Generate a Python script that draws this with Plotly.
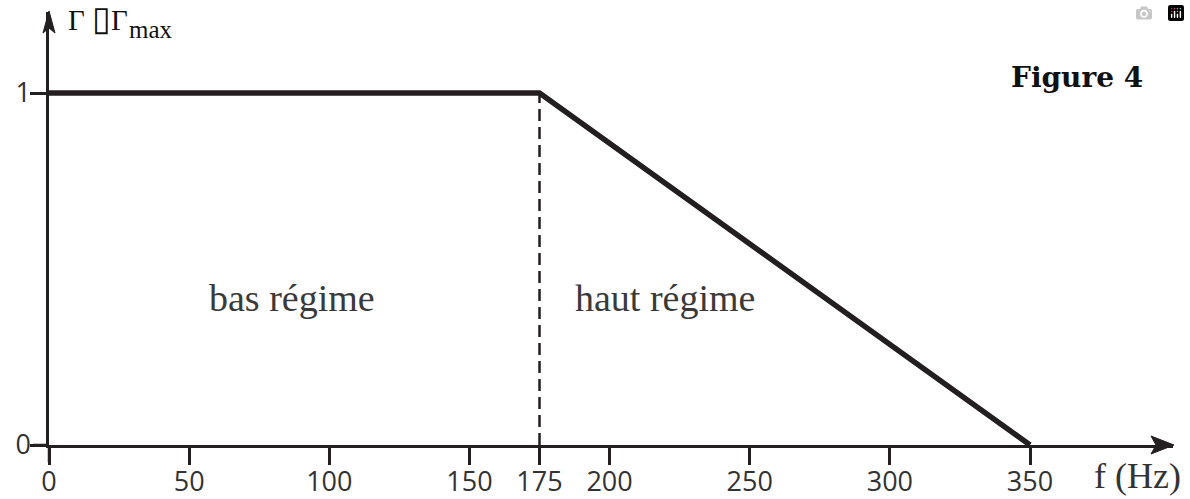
import plotly.graph_objects as go

# Data
freq = [0, 175, 350]           # Hz
gamma_ratio = [1, 1, 0]        # Γ / Γmax
boundary_f = [175, 175]
boundary_y = [0, 1]
x_ticks = [0, 50, 100, 150, 175, 200, 250, 300, 350]
x_ticktext = ["0", "50", "100", "150", "175", "200", "250", "300", "350"]
y_ticks = [0, 1]
y_ticktext = ["0", "1"]
regions = ["bas régime", "haut régime"]
region_x = [86.7, 219.8]
region_y = [0.418, 0.418]

INK = "#231f20"
TICKFONT = dict(family="Liberation Sans Narrow, Arial Narrow, Open Sans, sans-serif", size=27, color="#333333")
SERIF = "Liberation Serif, Times New Roman, serif"

fig = go.Figure()
fig.add_trace(go.Scatter(x=boundary_f, y=boundary_y, mode="lines",
                         line=dict(color=INK, width=2.5, dash="12px,6px"),
                         hoverinfo="skip", showlegend=False))
fig.add_trace(go.Scatter(x=freq, y=gamma_ratio, mode="lines",
                         line=dict(color=INK, width=5.5),
                         showlegend=False))

for txt, xv, yv in zip(regions, region_x, region_y):
    fig.add_annotation(x=xv, y=yv, xref="x", yref="y", text=txt, showarrow=False,
                       xanchor="center", yanchor="middle",
                       font=dict(family=SERIF, size=38, color="#3a3a3a"))

fig.add_annotation(x=0.968, y=-0.0716, xref="paper", yref="paper", text="f (Hz)",
                   xanchor="center", yanchor="middle",
                   showarrow=False, font=dict(family=SERIF, size=36, color="#333333"))
fig.add_annotation(x=0.0151, y=0.9847, xref="paper", yref="paper", xanchor="left", yanchor="middle",
                   text="Γ <span style='font-size:34px'>▯</span>Γ", showarrow=False,
                   font=dict(family=SERIF, size=29, color="#111111"))
fig.add_annotation(x=0.0694, y=0.9607, xref="paper", yref="paper", xanchor="left", yanchor="middle",
                   text="max", showarrow=False,
                   font=dict(family=SERIF, size=25, color="#111111"))
fig.add_annotation(x=0.9146, y=0.8476, xref="paper", yref="paper", text="<b>Figure 4</b>",
                   xanchor="center", yanchor="middle",
                   showarrow=False, font=dict(family="DejaVu Serif, serif", size=28, color="#111111"))

# axis extensions and arrowheads
fig.add_shape(type="line", xref="paper", yref="paper", xsizemode="pixel", xanchor=0,
              x0=-16, x1=0, y0=0, y1=0, line=dict(color=INK, width=2.5))
fig.add_shape(type="line", xref="paper", yref="paper", ysizemode="pixel", yanchor=0,
              x0=0, x1=0, y0=0, y1=-17, line=dict(color=INK, width=2.5))
fig.add_shape(type="path", xref="paper", yref="paper", xsizemode="pixel", ysizemode="pixel",
              xanchor=1, yanchor=0, path="M1,0 L-22,-9 L-17,0 L-22,9 Z",
              fillcolor=INK, line=dict(color=INK, width=1))
fig.add_shape(type="path", xref="paper", yref="paper", xsizemode="pixel", ysizemode="pixel",
              xanchor=0, yanchor=1, path="M0,1 L-6,-21 L0,-16 L6,-21 Z",
              fillcolor=INK, line=dict(color=INK, width=1))

fig.update_layout(
    width=1190, height=499,
    margin=dict(l=49, r=17, t=12, b=54, autoexpand=False),
    paper_bgcolor="white", plot_bgcolor="white",
    xaxis=dict(range=[0, 401.02], tickvals=x_ticks, ticktext=x_ticktext, automargin=False,
               showgrid=False, zeroline=False, showline=True, linecolor=INK, linewidth=2.5,
               ticks="outside", ticklen=17, tickwidth=2.5, tickcolor=INK,
               ticklabelstandoff=-6,
               tickfont=TICKFONT, fixedrange=True),
    yaxis=dict(range=[0, 1.2301], tickvals=y_ticks, ticktext=y_ticktext, automargin=False,
               showgrid=False, zeroline=False, showline=True, linecolor=INK, linewidth=2.5,
               ticks="outside", ticklen=16, tickwidth=2.5, tickcolor=INK,
               ticklabelstandoff=-6,
               tickfont=TICKFONT, fixedrange=True),
)

# remove the browser's default 8px body margin so the figure fills the window exactly
fig.write_html("out.html", post_script="document.body.style.margin='0';")
